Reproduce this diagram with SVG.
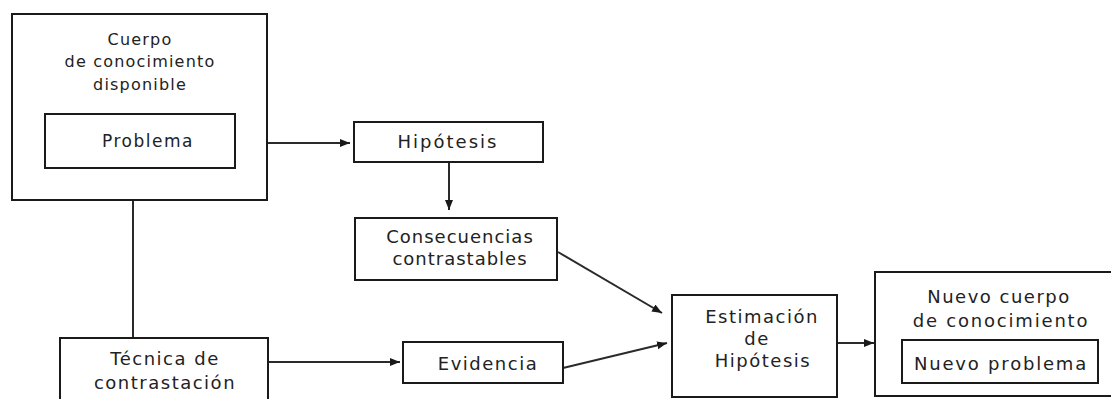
<svg xmlns="http://www.w3.org/2000/svg" width="1111" height="399" viewBox="0 0 1111 399">
  <style>
    .box { fill: #ffffff; stroke: #1a1a1a; stroke-width: 2; }
    .t { font-family: "DejaVu Sans", "Liberation Sans", sans-serif; font-size: 18px; letter-spacing: 1.5px; fill: #222; text-anchor: middle; }
    .s { font-size: 16px; letter-spacing: 1.2px; }
    .c { fill: none; stroke: #2a2a2a; stroke-width: 2; }
    .ca { fill: none; stroke: #2a2a2a; stroke-width: 2; marker-end: url(#arr); }
  </style>
  <defs>
    <marker id="arr" markerUnits="userSpaceOnUse" markerWidth="11" markerHeight="9" refX="10" refY="4" orient="auto">
      <path d="M0,0 L10,4 L0,8 z" fill="#1a1a1a"/>
    </marker>
  </defs>
  <rect width="1111" height="399" fill="#ffffff"/>

  <g id="connectors">
    <line class="ca" x1="267" y1="143" x2="350" y2="143"/>
    <line class="ca" x1="449" y1="162" x2="449" y2="210"/>
    <line class="c" x1="133" y1="200" x2="133" y2="338"/>
    <line class="ca" x1="268" y1="362" x2="400" y2="362"/>
    <line class="ca" x1="558" y1="252" x2="662" y2="313"/>
    <line class="ca" x1="563" y1="368" x2="667" y2="343"/>
    <line class="ca" x1="837" y1="343" x2="874" y2="343"/>
  </g>

  <g id="cuerpo">
    <rect class="box" x="12" y="14" width="255" height="186"/>
    <text class="t s" x="140" y="45">Cuerpo</text>
    <text class="t s" x="140" y="67">de conocimiento</text>
    <text class="t s" x="140" y="90">disponible</text>
  </g>
  <g id="problema">
    <rect class="box" x="45" y="114" width="190" height="54"/>
    <text class="t" x="148" y="147" style="font-size:17px">Problema</text>
  </g>
  <g id="hipotesis">
    <rect class="box" x="354" y="122" width="189" height="40"/>
    <text class="t" x="448" y="148" style="letter-spacing:2px">Hipótesis</text>
  </g>
  <g id="consecuencias">
    <rect class="box" x="355" y="218" width="202" height="62"/>
    <text class="t" x="460" y="243" style="letter-spacing:1px">Consecuencias</text>
    <text class="t" x="460" y="265" style="letter-spacing:1px">contrastables</text>
  </g>
  <g id="tecnica">
    <rect class="box" x="60" y="338" width="208" height="70"/>
    <text class="t" x="165" y="365">Técnica de</text>
    <text class="t" x="165" y="389">contrastación</text>
  </g>
  <g id="evidencia">
    <rect class="box" x="403" y="342" width="160" height="41"/>
    <text class="t" x="488" y="370">Evidencia</text>
  </g>
  <g id="estimacion">
    <rect class="box" x="672" y="295" width="165" height="102"/>
    <text class="t" x="762" y="323">Estimación</text>
    <text class="t" x="757" y="345">de</text>
    <text class="t" x="763" y="367">Hipótesis</text>
  </g>
  <g id="nuevo-cuerpo">
    <rect class="box" x="875" y="272" width="245" height="124"/>
    <text class="t" x="999" y="303">Nuevo cuerpo</text>
    <text class="t" x="1001" y="327" style="letter-spacing:1.8px">de conocimiento</text>
  </g>
  <g id="nuevo-problema">
    <rect class="box" x="902" y="340" width="196" height="43"/>
    <text class="t" x="1001" y="370" style="letter-spacing:1.8px">Nuevo problema</text>
  </g>
</svg>
